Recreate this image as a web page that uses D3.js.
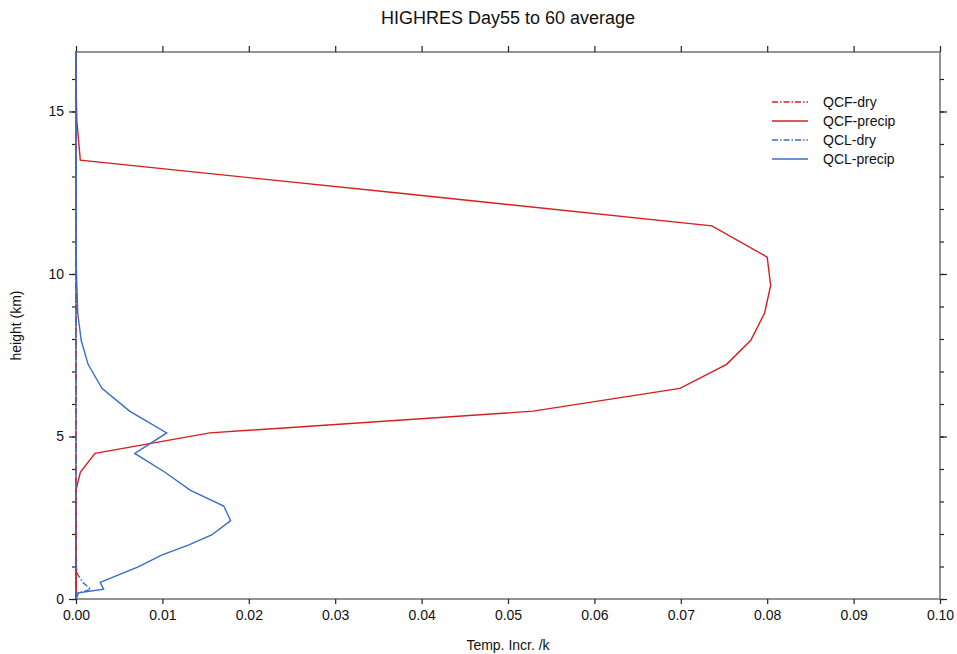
<!DOCTYPE html>
<html>
<head>
<meta charset="utf-8">
<script src="https://cdn.jsdelivr.net/npm/d3@7"></script>
<style>
  html, body { margin: 0; padding: 0; background: #fff; }
  svg { display: block; font-family: "Liberation Sans", Arial, sans-serif; }
</style>
</head>
<body>
<svg id="chart" width="957" height="654"></svg>
<script>
// Model level heights (km)
const heights = [0.02, 0.18, 0.30, 0.51, 0.75, 0.99, 1.35, 1.66, 1.97, 2.41, 2.86, 3.35, 3.90, 4.48, 5.11, 5.78, 6.48, 7.22, 7.96, 8.80, 9.65, 10.52, 11.48, 12.50, 13.50, 14.70, 15.90, 16.85];

// Temperature increments per level for each series
const qcfDry    = [0, 0, 0, 0, 0, 0, 0, 0, 0, 0, 0, 0, 0, 0, 0, 0, 0, 0, 0, 0, 0, 0, 0, 0, 0, 0, 0, 0];
const qcfPrecip = [0, 0, 0, 0, 0, 0, 0, 0, 0, 0, 0, 0, 0.0005, 0.0022, 0.0155, 0.0529, 0.0699, 0.0753, 0.0781, 0.0797, 0.0804, 0.0800, 0.0736, 0.0370, 0.0005, 0.0001, 0, 0];
const qclDry    = [0, 0.0003, 0.0017, 0.0008, 0.0002, 0.00005, 0, 0, 0, 0, 0, 0, 0, 0, 0, 0, 0, 0, 0, 0, 0, 0, 0, 0, 0, 0, 0, 0];
const qclPrecip = [0.0001, 0.0001, 0.0032, 0.0028, 0.0050, 0.0072, 0.0099, 0.0130, 0.0157, 0.0179, 0.0171, 0.0132, 0.0103, 0.0068, 0.0105, 0.0062, 0.0030, 0.0014, 0.0006, 0.0002, 0.0001, 0, 0, 0, 0, 0, 0, 0];

const seriesNames  = ["QCF-dry", "QCF-precip", "QCL-dry", "QCL-precip"];
const seriesValues = [qcfDry, qcfPrecip, qclDry, qclPrecip];
const seriesColors = ["#d42020", "#d42020", "#3a6cc8", "#3a6cc8"];
const seriesDash   = ["6,2,1.5,2", null, "6,2,1.5,2", null];

const xTicks = [0, 0.01, 0.02, 0.03, 0.04, 0.05, 0.06, 0.07, 0.08, 0.09, 0.10];
const yMajor = [0, 5, 10, 15];
const yMinor = d3.range(0, 17, 1);

const svg = d3.select("#chart");
const m = { left: 76, right: 940, top: 52, bottom: 599 };

const x = d3.scaleLinear().domain([0, 0.10]).range([m.left, m.right]);
const y = d3.scaleLinear().domain([0, 16.83]).range([m.bottom, m.top]);

// Frame
svg.append("rect")
  .attr("x", m.left).attr("y", m.top)
  .attr("width", m.right - m.left).attr("height", m.bottom - m.top)
  .attr("fill", "none").attr("stroke", "#7a7a7a").attr("stroke-width", 1.6);

// Axes: ticks point outward on all four sides
const tickStroke = "#222";
svg.append("g").attr("transform", `translate(0,${m.bottom})`)
  .call(d3.axisBottom(x).tickValues(xTicks).tickSize(5).tickPadding(6).tickFormat(d3.format(".2f")))
  .call(g => g.select(".domain").remove());
svg.append("g").attr("transform", `translate(0,${m.top})`)
  .call(d3.axisTop(x).tickValues(xTicks).tickSize(6).tickFormat(""))
  .call(g => g.select(".domain").remove());
svg.append("g").attr("transform", `translate(${m.left},0)`)
  .call(d3.axisLeft(y).tickValues(yMinor).tickSize(4).tickFormat(""))
  .call(g => g.select(".domain").remove());
svg.append("g").attr("transform", `translate(${m.left},0)`)
  .call(d3.axisLeft(y).tickValues(yMajor).tickSize(7).tickPadding(5).tickFormat(d3.format("d")))
  .call(g => g.select(".domain").remove());
svg.append("g").attr("transform", `translate(${m.right},0)`)
  .call(d3.axisRight(y).tickValues(yMinor).tickSize(4).tickFormat(""))
  .call(g => g.select(".domain").remove());
svg.append("g").attr("transform", `translate(${m.right},0)`)
  .call(d3.axisRight(y).tickValues(yMajor).tickSize(7).tickFormat(""))
  .call(g => g.select(".domain").remove());

svg.selectAll(".tick line").attr("stroke", tickStroke).attr("stroke-width", 1.2);
svg.selectAll(".tick text").attr("fill", "#111").style("font-size", "14px")
  .style("font-family", "'Liberation Sans', Arial, sans-serif");

// Series lines, drawn over the frame
const line = d3.line().x(d => x(d[0])).y(d => y(d[1]));
seriesValues.forEach((vals, i) => {
  const pts = vals.map((v, k) => [v, heights[k]]);
  svg.append("path")
    .attr("d", line(pts))
    .attr("fill", "none")
    .attr("stroke", seriesColors[i])
    .attr("stroke-width", 1.4)
    .attr("stroke-dasharray", seriesDash[i]);
});

// Title and axis labels
svg.append("text").attr("x", (m.left + m.right) / 2).attr("y", 24)
  .attr("text-anchor", "middle").style("font-size", "18px").attr("fill", "#111")
  .text("HIGHRES Day55 to 60 average");
svg.append("text").attr("x", (m.left + m.right) / 2).attr("y", 650)
  .attr("text-anchor", "middle").style("font-size", "14px").attr("fill", "#111")
  .text("Temp. Incr. /k");
svg.append("text").attr("transform", `translate(21,${(m.top + m.bottom) / 2}) rotate(-90)`)
  .attr("text-anchor", "middle").style("font-size", "14px").attr("fill", "#111")
  .text("height (km)");

// Legend
const legend = svg.append("g");
seriesNames.forEach((name, i) => {
  const ly = 102 + i * 19;
  legend.append("line")
    .attr("x1", 772).attr("x2", 808).attr("y1", ly).attr("y2", ly)
    .attr("stroke", seriesColors[i]).attr("stroke-width", 1.3)
    .attr("stroke-dasharray", seriesDash[i]);
  legend.append("text").attr("x", 823).attr("y", ly + 5)
    .style("font-size", "14px").attr("fill", "#111").text(name);
});
</script>
</body>
</html>
